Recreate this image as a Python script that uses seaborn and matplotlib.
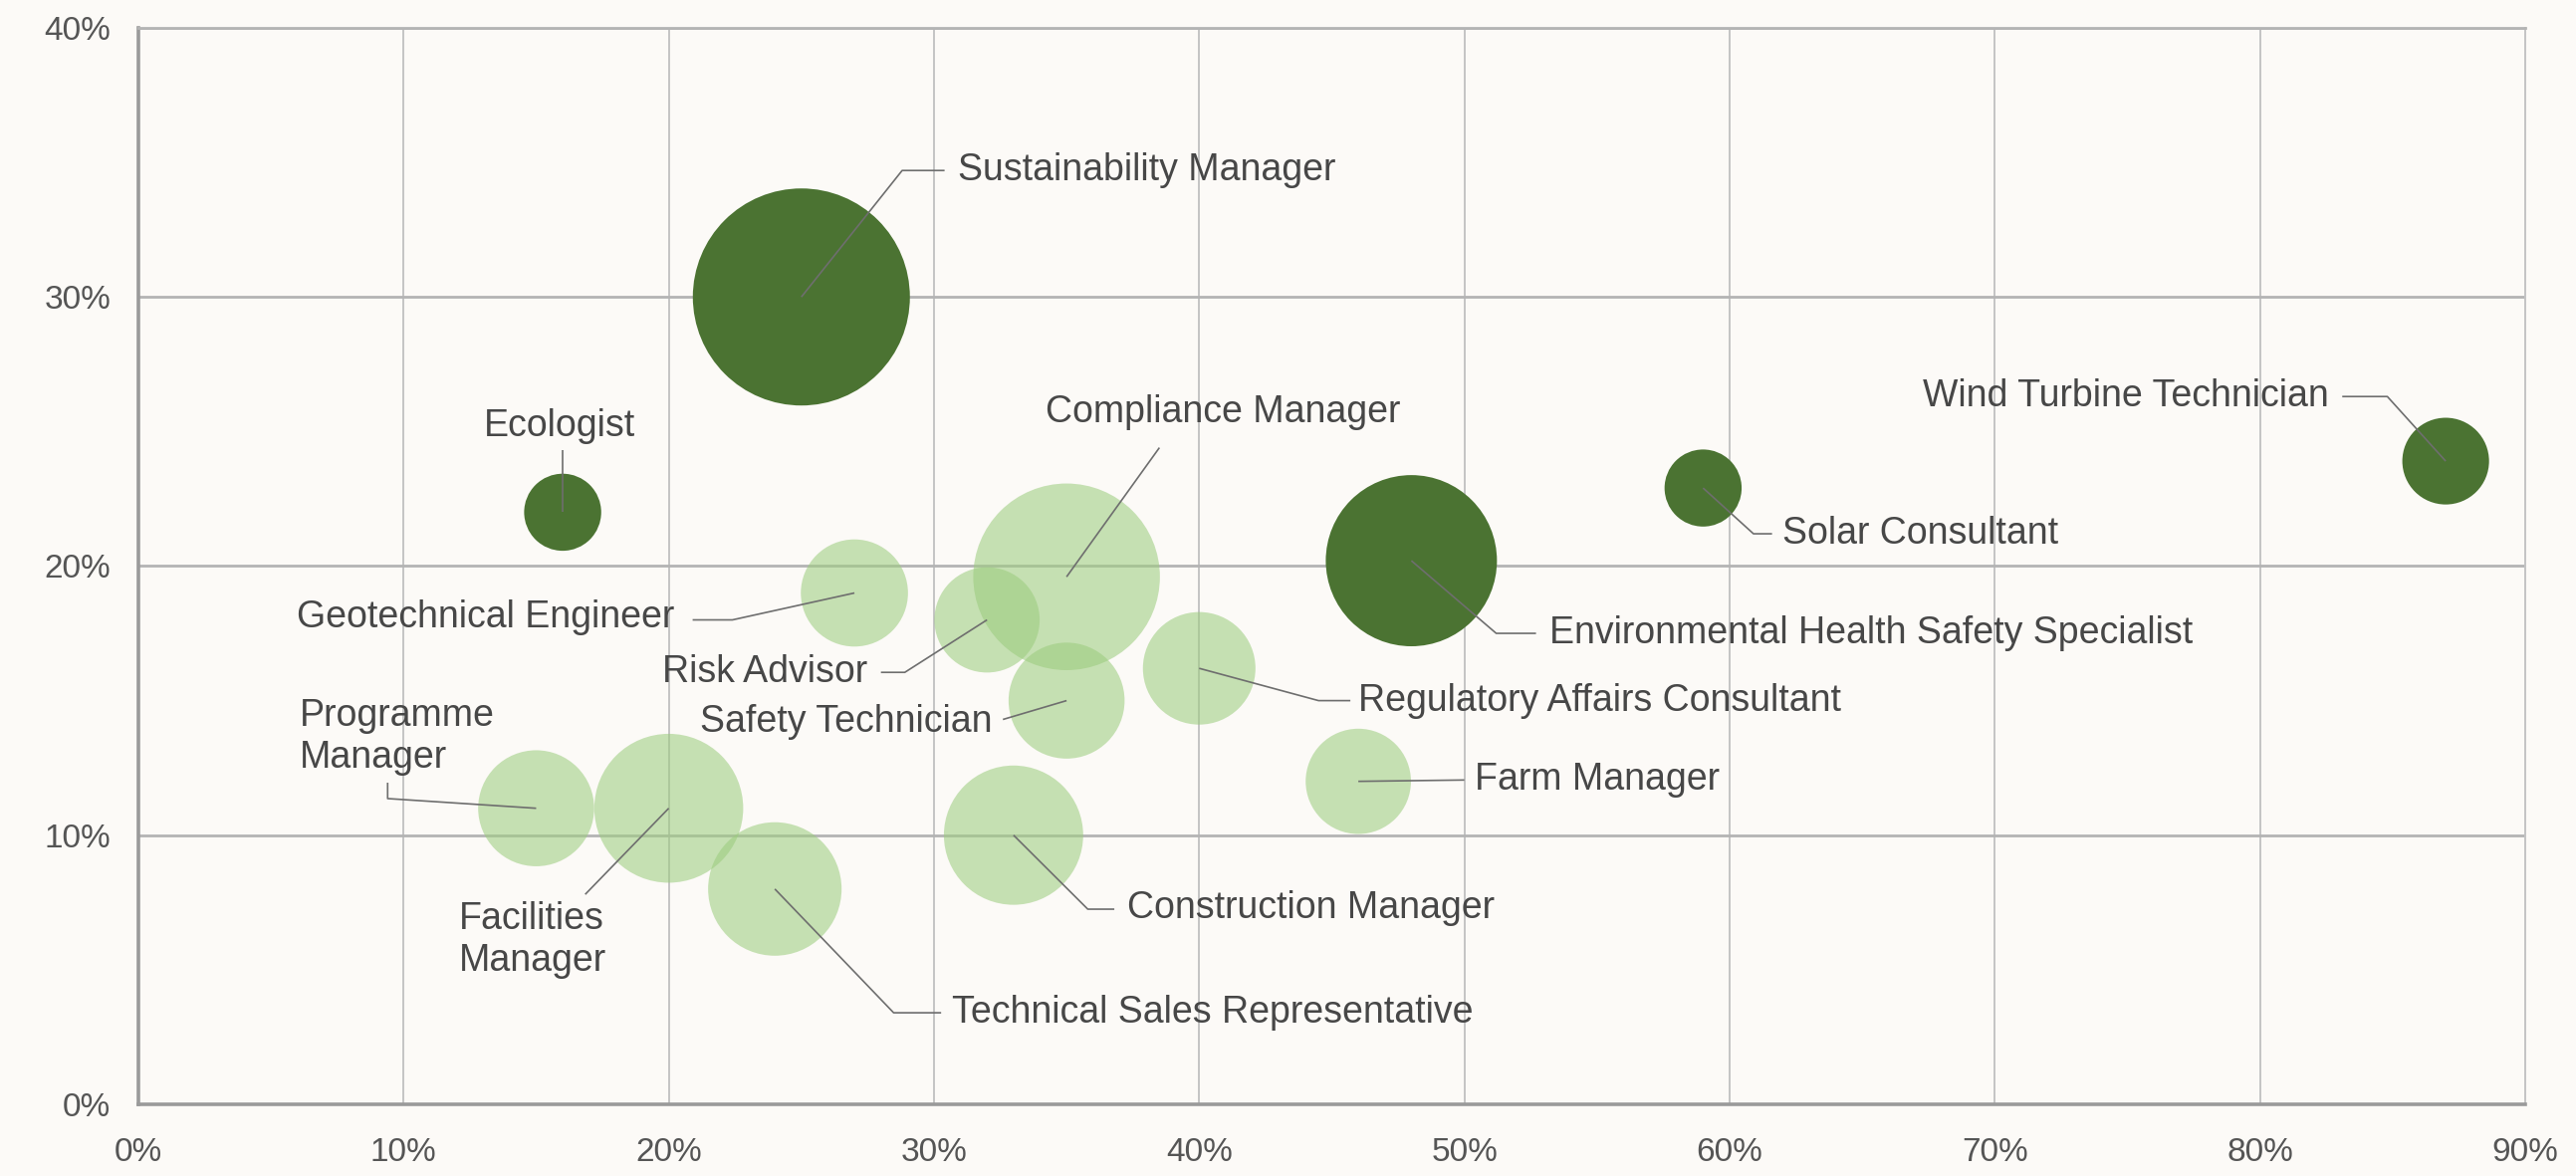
import matplotlib
matplotlib.use("Agg")
import matplotlib.pyplot as plt
import seaborn as sns
import pandas as pd

# job roles: x / y share (%), bubble weight, group
roles = ["Sustainability Manager", "Ecologist", "Compliance Manager", "Geotechnical Engineer",
         "Risk Advisor", "Safety Technician", "Regulatory Affairs Consultant", "Farm Manager",
         "Environmental Health Safety Specialist", "Solar Consultant", "Wind Turbine Technician",
         "Programme Manager", "Facilities Manager", "Technical Sales Representative",
         "Construction Manager"]
x_share = [25, 16, 35, 27, 32, 35, 40, 46, 48, 59, 87, 15, 20, 24, 33]
y_share = [30.0, 22.0, 19.6, 19.0, 18.0, 15.0, 16.2, 12.0, 20.2, 22.9, 23.9, 11.0, 11.0, 8.0, 10.0]
bubble = [119, 15, 88, 29, 28, 34, 32, 28, 74, 15, 19, 34, 56, 45, 49]
group = ["dark", "dark", "light", "light", "light", "light", "light", "light",
         "dark", "dark", "dark", "light", "light", "light", "light"]

x_ticks = [0, 10, 20, 30, 40, 50, 60, 70, 80, 90]
y_ticks = [0, 10, 20, 30, 40]

df = pd.DataFrame({"role": roles, "x": x_share, "y": y_share, "bubble": bubble, "group": group})

# label placement: text anchor, alignment, leader line bends (after the bubble centre)
label_layout = {
    "Sustainability Manager": ((30.9, 34.7), "left", "Sustainability Manager", [(28.8, 34.7), (30.4, 34.7)]),
    "Ecologist": ((15.9, 25.2), "center", "Ecologist", [(16.0, 24.3)]),
    "Compliance Manager": ((40.9, 25.7), "center", "Compliance Manager", [(38.5, 24.4)]),
    "Geotechnical Engineer": ((20.2, 18.1), "right", "Geotechnical Engineer", [(22.4, 18.0), (20.9, 18.0)]),
    "Risk Advisor": ((27.5, 16.05), "right", "Risk Advisor", [(28.9, 16.05), (28.0, 16.05)]),
    "Safety Technician": ((32.2, 14.2), "right", "Safety Technician", [(32.6, 14.3)]),
    "Regulatory Affairs Consultant": ((46.0, 15.0), "left", "Regulatory Affairs Consultant", [(44.5, 15.0), (45.7, 15.0)]),
    "Farm Manager": ((50.4, 12.05), "left", "Farm Manager", [(50.0, 12.05)]),
    "Environmental Health Safety Specialist": ((53.2, 17.5), "left", "Environmental Health Safety Specialist", [(51.2, 17.5), (52.7, 17.5)]),
    "Solar Consultant": ((62.0, 21.2), "left", "Solar Consultant", [(60.9, 21.2), (61.6, 21.2)]),
    "Wind Turbine Technician": ((82.6, 26.3), "right", "Wind Turbine Technician", [(84.8, 26.3), (83.1, 26.3)]),
    "Programme Manager": ((6.07, 13.65), "left", "Programme\nManager", [(9.4, 11.36), (9.4, 11.95)]),
    "Facilities Manager": ((12.08, 6.1), "left", "Facilities\nManager", [(16.85, 7.8)]),
    "Technical Sales Representative": ((30.66, 3.4), "left", "Technical Sales Representative", [(28.48, 3.4), (30.27, 3.4)]),
    "Construction Manager": ((37.3, 7.28), "left", "Construction Manager", [(35.8, 7.25), (36.8, 7.25)]),
}

BG = "#FCFAF7"
DARK = "#4B7332"
LIGHT = "#9BCC7D"
TEXT = "#474747"
LEADER = "#6E6E6E"

sns.set_style("white")
plt.rcParams["font.family"] = ["Liberation Sans Narrow", "Liberation Sans", "DejaVu Sans"]

fig = plt.figure(figsize=(25.87, 11.81), dpi=100, facecolor=BG)
ax = fig.add_axes([0.0537, 0.061, 0.9803 - 0.0537, 0.9763 - 0.061])
ax.set_facecolor(BG)

# marker area in pt^2 proportional to bubble weight
k = 207.0
lo, hi = min(bubble), max(bubble)
for grp, col, a in [("light", LIGHT, 0.56), ("dark", DARK, 1.0)]:
    sub = df[df["group"] == grp]
    sns.scatterplot(data=sub, x="x", y="y", size="bubble", sizes=(k * lo, k * hi),
                    size_norm=(lo, hi), color=col, alpha=a, linewidth=0,
                    edgecolor="none", legend=False, ax=ax, zorder=3)

for _, row in df.iterrows():
    (tx, ty), ha, txt, bends = label_layout[row["role"]]
    xs = [row["x"]] + [p[0] for p in bends]
    ys = [row["y"]] + [p[1] for p in bends]
    ax.plot(xs, ys, color=LEADER, lw=1.2, zorder=4, solid_capstyle="butt")
    ax.text(tx, ty, txt, ha=ha, va="center", fontsize=27, color=TEXT,
            linespacing=1.22, zorder=5)

ax.set_xlim(0, 90)
ax.set_ylim(0, 40)
ax.set_xticks(x_ticks)
ax.set_yticks(y_ticks)
ax.set_xticklabels([f"{v}%" for v in x_ticks])
ax.set_yticklabels([f"{v}%" for v in y_ticks])
ax.set_xlabel("")
ax.set_ylabel("")
ax.tick_params(axis="both", length=0, labelsize=24, labelcolor="#555555")
ax.tick_params(axis="x", pad=24)
ax.tick_params(axis="y", pad=20)

ax.set_axisbelow(True)
ax.xaxis.grid(True, color="#C4C4C4", lw=1.4)
ax.yaxis.grid(True, color="#B4B4B4", lw=2.0)
for side in ["left", "bottom"]:
    ax.spines[side].set_color("#9A9A9A")
    ax.spines[side].set_linewidth(2.6)
ax.spines["top"].set_color("#B4B4B4")
ax.spines["top"].set_linewidth(2.0)
ax.spines["right"].set_color("#C4C4C4")
ax.spines["right"].set_linewidth(1.4)

fig.savefig("out.png", dpi=100, facecolor=BG)
